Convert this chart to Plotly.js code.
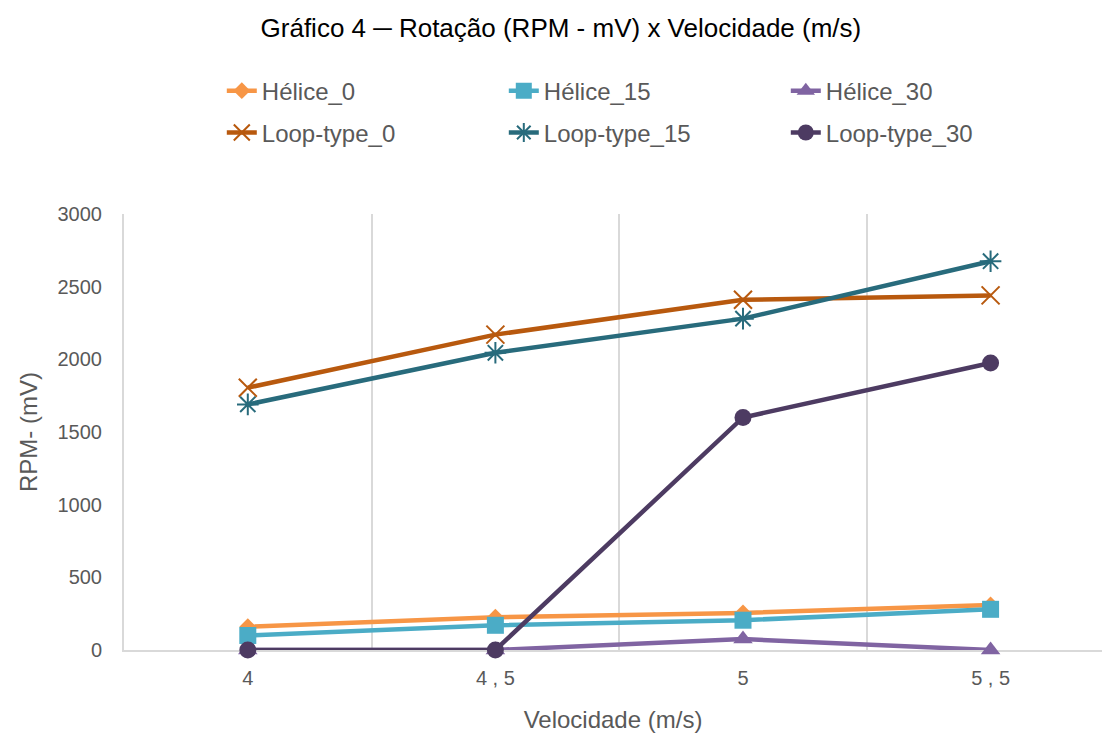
<!DOCTYPE html>
<html>
<head>
<meta charset="utf-8">
<script src="https://cdn.plot.ly/plotly-3.0.1.min.js"></script>
<style>html,body{margin:0;padding:0;background:#fff;}#chart{width:1102px;height:733px;}</style>
</head>
<body>
<div id="chart"></div>
<script>
const categories = ["4", "4 , 5", "5", "5 , 5"];
const helice0 = [160, 225, 255, 310];
const helice15 = [100, 170, 205, 280];
const helice30 = [0, 0, 75, 0];
const loop0 = [1805, 2170, 2410, 2440];
const loop15 = [1690, 2045, 2280, 2675];
const loop30 = [0, 0, 1600, 1975];

const seriesNames = ["Hélice_0", "Hélice_15", "Hélice_30", "Loop-type_0", "Loop-type_15", "Loop-type_30"];
const seriesValues = [helice0, helice15, helice30, loop0, loop15, loop30];
const colors = ["#F79646", "#4BACC6", "#8064A2", "#B8590E", "#286B7C", "#4D3B62"];
const symbols = ["diamond", "square", "triangle-up", "x-thin-open", "asterisk-open", "circle"];
const sizes = [13, 17, 17, 18, 18, 17];
const legends = ["legend", "legend", "legend", "legend2", "legend2", "legend2"];

const traces = seriesNames.map((n, i) => ({
  type: "scatter",
  mode: "lines+markers",
  name: n,
  x: categories,
  y: seriesValues[i],
  legend: legends[i],
  cliponaxis: false,
  line: {color: colors[i], width: 4.5},
  marker: {
    symbol: symbols[i],
    size: sizes[i],
    color: colors[i],
    line: {color: colors[i], width: (i === 3 || i === 4) ? 2 : 0}
  }
}));

const fam = "Liberation Sans, Arial, sans-serif";
const legendCommon = {
  orientation: "h",
  xanchor: "left",
  yanchor: "middle",
  x: 0.1,
  entrywidth: 237,
  entrywidthmode: "pixels",
  font: {family: fam, size: 24, color: "#595959"},
  bgcolor: "rgba(0,0,0,0)",
  traceorder: "normal"
};

const layout = {
  width: 1102,
  height: 733,
  paper_bgcolor: "#ffffff",
  plot_bgcolor: "#ffffff",
  margin: {l: 124, r: 0, t: 214, b: 83},
  font: {family: fam, color: "#595959"},
  title: {
    text: "Gráfico 4 ─ Rotação (RPM - mV) x Velocidade (m/s)",
    font: {family: fam, size: 26, color: "#000000"},
    x: 0.509, xanchor: "center",
    y: 0.962, yanchor: "middle"
  },
  showlegend: true,
  legend: Object.assign({}, legendCommon, {y: 1.282}),
  legend2: Object.assign({}, legendCommon, {y: 1.186}),
  xaxis: {
    type: "category",
    range: [-0.5, 3.45],
    tickson: "boundaries",
    layer: "below traces",
    showgrid: true,
    gridcolor: "#D9D9D9",
    gridwidth: 2,
    showline: true,
    linecolor: "#D9D9D9",
    linewidth: 2,
    ticks: "",
    ticklabelstandoff: 9,
    tickfont: {family: fam, size: 20, color: "#595959"},
    zeroline: false,
    title: {text: "Velocidade (m/s)", font: {family: fam, size: 24, color: "#595959"}, standoff: 26}
  },
  yaxis: {
    range: [0, 3000],
    dtick: 500,
    tick0: 0,
    layer: "below traces",
    showgrid: false,
    zeroline: false,
    showline: true,
    linecolor: "#D9D9D9",
    linewidth: 2,
    ticks: "",
    ticklabelstandoff: 16,
    tickfont: {family: fam, size: 20, color: "#595959"},
    title: {text: "RPM- (mV)", font: {family: fam, size: 24, color: "#595959"}, standoff: 13}
  }
};

Plotly.newPlot("chart", traces, layout, {displayModeBar: false, staticPlot: true});
</script>
</body>
</html>
